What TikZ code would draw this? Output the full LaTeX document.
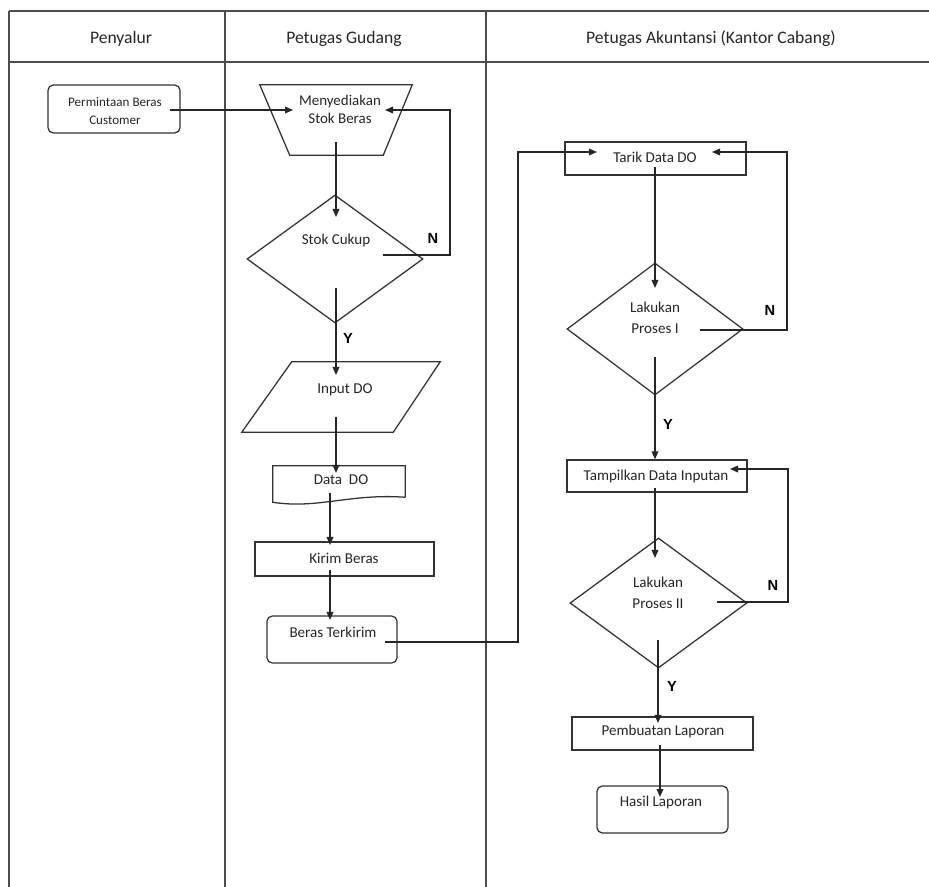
\documentclass[tikz,border=0pt]{standalone}
\usepackage{fontspec}
\setmainfont{Carlito}
\newfontfamily\lblfont{Liberation Sans}
\usetikzlibrary{shapes.geometric,arrows.meta,calc}
\newcommand{\pxu}{0.75pt}
\tikzset{
  frame/.style={draw=black!70, line width=1.1pt},
  shp/.style={draw=black!80, line width=0.95pt, inner sep=0pt, fill=none},
  area/.style={inner sep=0pt, rectangle},
  boxr/.style={shp, rectangle},
  boxrr/.style={shp, rectangle, rounded corners=4pt},
  dia/.style={shp, diamond},
  txt/.style={inner sep=0pt, align=center, font=\fontsize{11.3}{15.5}\selectfont, text=black!85},
  hdr/.style={inner sep=0pt, font=\fontsize{13.2}{15}\selectfont, text=black!85},
  yn/.style={inner sep=0pt, font=\lblfont\bfseries\fontsize{11}{13}\selectfont},
  conn/.style={line width=0.95pt, draw=black!85},
  arr/.style={conn, -{Triangle[length=6pt,width=5pt]}},
}
\begin{document}
\begin{tikzpicture}[x=0.75pt,y=-0.75pt]
\useasboundingbox (0,0) rectangle (929,887);
% frame
\draw[frame] (9,11) -- (929,11);
\draw[frame] (9,62) -- (929,62);
\draw[frame] (9,11) -- (9,887);
\draw[frame] (225,11) -- (225,887);
\draw[frame] (486,11) -- (486,887);
\node[hdr] (h1) at (121,39) {Penyalur};
\node[hdr] (h2) at (344,39) {Petugas Gudang};
\node[hdr] (h3) at (711,39) {Petugas Akuntansi (Kantor Cabang)};

% Penyalur
\node[boxrr, minimum width=132*\pxu, minimum height=48*\pxu] (perm) at (114,109) {};
\node[txt, font=\fontsize{9.8}{14}\selectfont] (permT) at (115,111) {Permintaan Beras\\Customer};

% Petugas Gudang
\node[area, minimum width=152*\pxu, minimum height=70*\pxu] (trap) at (336,120) {};
\draw[shp] (trap.north west) -- (trap.north east) -- ($(trap.south east)+(-29,0)$) -- ($(trap.south west)+(30,0)$) -- cycle;
\node[txt, font=\fontsize{11.2}{13.5}\selectfont] (trapT) at (340,109) {Menyediakan\\Stok Beras};
\node[dia, minimum width=176*\pxu, minimum height=128*\pxu] (d1) at (335,259) {};
\node[txt] (d1T) at (336,240) {Stok Cukup};
\node[area, minimum width=198*\pxu, minimum height=70*\pxu] (inp) at (341,397) {};
\draw[shp] ($(inp.north west)+(50,0)$) -- (inp.north east) -- ($(inp.south east)+(-47,0)$) -- (inp.south west) -- cycle;
\node[txt] (inpT) at (345,390) {Input DO};
\node[area, minimum width=132*\pxu, minimum height=31*\pxu] (dd) at (339,481.5) {};
\draw[shp] (dd.south east) -- (dd.north east) -- (dd.north west) -- ($(dd.south west)+(0,5)$)
  .. controls ($(dd.south west)+(45,12)$) and ($(dd.south east)+(-55,-4)$) .. (dd.south east);
\node[txt] (ddT) at (341,480) {Data\ \ DO};
\node[boxr, minimum width=179*\pxu, minimum height=34*\pxu] (kirim) at (344.5,559) {};
\node[txt] (kirimT) at (344,558) {Kirim Beras};
\node[boxrr, minimum width=130*\pxu, minimum height=47*\pxu] (bt) at (332,639.5) {};
\node[txt] (btT) at (333,632) {Beras Terkirim};

% Petugas Akuntansi
\node[boxr, minimum width=181*\pxu, minimum height=33*\pxu] (tarik) at (655.5,158.5) {};
\node[txt] (tarikT) at (655,157) {Tarik Data DO};
\node[dia, minimum width=176*\pxu, minimum height=132*\pxu] (d2) at (655,329) {};
\node[txt] (d2T) at (655,318) {Lakukan\\Proses I};
\node[boxr, minimum width=180*\pxu, minimum height=32*\pxu] (tamp) at (657,476) {};
\node[txt] (tampT) at (656,476) {Tampilkan Data Inputan};
\node[dia, minimum width=177*\pxu, minimum height=130*\pxu] (d3) at (658.5,603) {};
\node[txt] (d3T) at (658,593) {Lakukan\\Proses II};
\node[boxr, minimum width=181*\pxu, minimum height=33*\pxu] (pemb) at (662.5,733.5) {};
\node[txt] (pembT) at (663,731) {Pembuatan Laporan};
\node[boxrr, minimum width=131*\pxu, minimum height=47*\pxu] (hasil) at (662.5,809.5) {};
\node[txt] (hasilT) at (661,802) {Hasil Laporan};

% connectors
\draw[arr] ($(perm.center)+(56,1)$) -- ($(trap.center)+(-43,-10)$);
\draw[arr] ($(trap.center)+(0,22)$) -- ($(d1.center)+(1,-42)$);
\draw[arr] ($(d1.center)+(48,-4)$) -- (450,255) -- (450,110) -- ($(trap.center)+(49,-10)$);
\node[yn] (n1) at (433,238) {N};
\draw[arr] ($(d1.center)+(1,29)$) -- ($(inp.center)+(-5,-22)$);
\node[yn] (y1) at (348,338) {Y};
\draw[arr] ($(inp.center)+(-5,20)$) -- ($(dd.center)+(-3,-8.5)$);
\draw[arr] ($(dd.center)+(-9,11.5)$) -- ($(kirim.center)+(-14.5,-14)$);
\draw[arr] ($(kirim.center)+(-14.5,11)$) -- ($(bt.center)+(-2,-19.5)$);
\draw[arr] ($(bt.center)+(53,2.5)$) -- (518,642) -- (518,152) -- ($(tarik.center)+(-58.5,-6.5)$);

\draw[arr] ($(d2.center)+(45,1)$) -- (787,330) -- (787,152) -- ($(tarik.center)+(56.5,-6.5)$);
\node[yn] (n2) at (770,310) {N};
\draw[arr] ($(tarik.center)+(-0.5,8.5)$) -- ($(d2.center)+(0,-41)$);
\draw[arr] ($(d2.center)+(0,28)$) -- (tamp.north -| d2.center);
\node[yn] (y2) at (668,424) {Y};
\draw[arr] ($(d3.center)+(58.5,-1)$) -- (788,602) -- (788,469) -- ($(tamp.center)+(73,-7)$);
\node[yn] (n3) at (773,585) {N};
\draw[arr] ($(tamp.center)+(-2,12)$) -- ($(d3.center)+(-3.5,-45)$);
\draw[arr] ($(d3.center)+(-0.5,37)$) -- ($(pemb.center)+(-4.5,-10.5)$);
\node[yn] (y3) at (672,686) {Y};
\draw[arr] ($(pemb.center)+(-2.5,11.5)$) -- ($(hasil.center)+(-2.5,-12.5)$);
\end{tikzpicture}
\end{document}
